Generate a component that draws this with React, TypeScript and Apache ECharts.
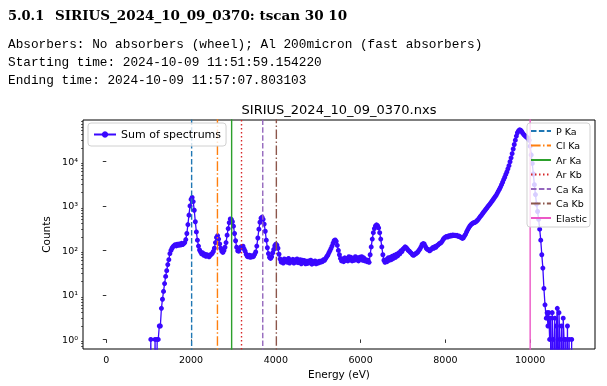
import React, { useEffect, useRef } from "react";
import * as echarts from "echarts";

// ---- Data ----
const mainStart = 1000; // eV
const mainStep = 25; // eV
const mainCounts = [
  0, 0, 1, 0, 0, 0, 1, 0, 1, 1,
  2, 2, 5, 8, 12, 18, 26, 35, 48, 62,
  85, 100, 112, 122, 128, 134, 126, 138, 130, 140,
  132, 144, 136, 142, 150, 175, 240, 380, 620, 1000,
  1400, 1550, 1250, 800, 440, 260, 170, 125, 102, 92,
  84, 88, 78, 82, 74, 80, 76, 72, 78, 82,
  86, 95, 112, 150, 195, 215, 180, 140, 112, 96,
  90, 100, 118, 150, 220, 310, 420, 510, 500, 440,
  350, 240, 165, 118, 98, 96, 110, 120, 116, 124,
  108, 96, 82, 74, 72, 78, 70, 76, 72, 74,
  82, 92, 125, 190, 300, 430, 530, 560, 500, 390,
  270, 170, 115, 85, 70, 66, 72, 88, 105, 128,
  138, 132, 112, 82, 64, 55, 60, 52, 64, 56,
  62, 54, 66, 52, 60, 56, 63, 52, 61, 55,
  64, 53, 58, 62, 50, 60, 54, 59, 50, 57,
  51, 58, 53, 60, 49, 56, 52, 58, 50, 55,
  52, 57, 54, 58, 56, 62, 60, 66, 72, 78,
  88, 98, 110, 125, 145, 165, 172, 160, 130, 100,
  80, 66, 58, 64, 56, 68, 60, 66, 58, 72,
  62, 70, 58, 66, 60, 72, 62, 68, 58, 70,
  64, 72, 60, 68, 58, 62, 56, 60, 54, 80,
  120, 180, 250, 310, 355, 375, 360, 320, 250, 180,
  120, 80, 60, 54, 62, 56, 68, 60, 70, 62,
  74, 66, 78, 70, 82, 76, 88, 84, 98, 94,
  106, 112, 120, 116, 108, 100, 96, 90, 86, 80,
  78, 82, 84, 88, 92, 100, 108, 120, 136, 142,
  140, 125, 112, 106, 104, 98, 102, 108, 116, 112,
  122, 118, 128, 132, 140, 145, 150, 162, 178, 190,
  198, 206, 200, 212, 208, 218, 212, 222, 216, 220,
  214, 218, 206, 210, 200, 196, 186, 192, 212, 230,
  260, 290, 320, 350, 375, 395, 410, 420, 430, 445,
  470, 500, 540, 580, 620, 670, 720, 770, 830, 890,
  960, 1030, 1100, 1190, 1280, 1380, 1500, 1620, 1750, 1940,
  2150, 2380, 2650, 3000, 3400, 3900, 4400, 5100, 5800, 6800,
  8000, 9800, 12000, 15000, 19000, 24000, 30000, 37000, 44000, 48500,
  51000, 50000, 47000, 43000, 40000, 38000, 36000, 34500, 33000, 30000,
  22000, 14000, 9000, 5200, 3000, 1800, 1100, 750, 500, 300,
  170, 80, 40, 14, 6,
];
const tailStart = 10380; // eV
const tailStep = 20; // eV
const tailCounts = [
  3, 4, 2, 4, 1, 3, 0, 4, 1, 0,
  3, 0, 2, 5, 0, 4, 1, 0, 2, 0,
  3, 1, 0, 1, 0, 2, 0, 1, 0, 0,
  1,
];

const lineNames = ["P Ka", "Cl Ka", "Ar Ka", "Ar Kb", "Ca Ka", "Ca Kb", "Elastic"];
const lineEnergies = [2013, 2622, 2957, 3190, 3691, 4012, 10000];

const xTicks = [0, 2000, 4000, 6000, 8000, 10000];
const yDecades = [0, 1, 2, 3, 4];

const headerTitle = "SIRIUS_2024_10_09_0370: tscan 30 10";
const headerNumber = "5.0.1";
const headerLines = [
  "Absorbers: No absorbers (wheel); Al 200micron (fast absorbers)",
  "Starting time: 2024-10-09 11:51:59.154220",
  "Ending time: 2024-10-09 11:57:07.803103",
];
const chartTitle = "SIRIUS_2024_10_09_0370.nxs";
const seriesName = "Sum of spectrums";

// ---- Styles ----
const lineColors = ["#1f77b4", "#ff7f0e", "#2ca02c", "#d62728", "#9467bd", "#8c564b", "#ec58c6"];
const lineDashes: any[] = [
  [5.5, 2.4],
  [9.6, 2.4, 1.5, 2.4],
  "solid",
  [1.5, 2.5],
  [5.5, 2.4],
  [9.6, 2.4, 1.5, 2.4],
  "solid",
];
const mainColor = "#3a08ff";

const Y_MIN = -0.215;
const Y_MAX = 4.93;
const X_MIN = -550;
const X_MAX = 11530;
const SUP = ["⁰", "¹", "²", "³", "⁴"];

const toLog = (c: number) => (c > 0 ? Math.log10(c) : -3);

export default function App() {
  const ref = useRef<HTMLDivElement>(null);
  useEffect(() => {
    if (!ref.current) return;
    const chart = echarts.init(ref.current, undefined, { renderer: "svg" });

    const mainData: number[][] = [];
    mainCounts.forEach((c, i) => mainData.push([mainStart + i * mainStep, toLog(c)]));
    tailCounts.forEach((c, i) => mainData.push([tailStart + i * tailStep, toLog(c)]));

    const minorTicks: number[] = [];
    for (let n = -1; n <= 4; n++) {
      for (let k = 2; k <= 9; k++) {
        const v = Math.log10(k * Math.pow(10, n));
        if (v > Y_MIN && v < Y_MAX) minorTicks.push(v);
      }
    }

    const font = "DejaVu Sans";
    const lineSeries = lineNames.map((name, i) => ({
      type: "line",
      name,
      data: [
        [lineEnergies[i], Y_MIN - 1],
        [lineEnergies[i], Y_MAX + 1],
      ],
      symbol: "none",
      clip: true,
      silent: true,
      z: 3,
      itemStyle: { color: lineColors[i] },
      lineStyle: { color: lineColors[i], width: 1.4, type: lineDashes[i] },
    }));

    chart.setOption({
      animation: false,
      title: {
        text: chartTitle,
        left: 339,
        top: 103,
        textAlign: "center",
        padding: 0,
        textStyle: { fontFamily: font, fontSize: 13, fontWeight: "normal", color: "#000" },
      },
      graphic: [
        {
          type: "text",
          x: 8,
          y: 15,
          style: { text: headerNumber, fontFamily: "DejaVu Serif", fontWeight: "bold", fontSize: 13, fill: "#000", verticalAlign: "middle" },
        },
        {
          type: "text",
          x: 55,
          y: 15,
          style: { text: headerTitle, fontFamily: "DejaVu Serif", fontWeight: "bold", fontSize: 13.5, fill: "#000", verticalAlign: "middle" },
        },
        ...headerLines.map((t, i) => ({
          type: "text",
          x: 8,
          y: 44 + i * 18,
          style: { text: t, fontFamily: "Liberation Mono", fontSize: 12.75, fill: "#000", verticalAlign: "middle" },
        })),
      ],
      grid: {
        left: 83,
        right: 12,
        top: 120,
        bottom: 37,
        show: true,
        borderColor: "#000",
        borderWidth: 1,
        backgroundColor: "transparent",
      },
      legend: [
        {
          data: [seriesName],
          left: 88,
          top: 123,
          orient: "vertical",
          padding: [6, 5, 6, 5],
          itemWidth: 22,
          itemHeight: 8,
          borderColor: "#d0d0d0",
          borderWidth: 1,
          borderRadius: 3,
          backgroundColor: "rgba(255,255,255,0.8)",
          textStyle: { fontFamily: font, fontSize: 11, color: "#000" },
        },
        {
          data: lineNames,
          right: 17,
          top: 123,
          orient: "vertical",
          padding: [3, 3, 4, 3],
          itemGap: 4.5,
          itemWidth: 20,
          itemHeight: 9,
          borderColor: "#d0d0d0",
          borderWidth: 1,
          borderRadius: 3,
          backgroundColor: "rgba(255,255,255,0.8)",
          itemStyle: { color: "rgba(0,0,0,0)", borderWidth: 0 },
          textStyle: { fontFamily: font, fontSize: 9.5, color: "#000" },
        },
      ],
      xAxis: {
        type: "value",
        min: X_MIN,
        max: X_MAX,
        name: "Energy (eV)",
        nameLocation: "middle",
        nameGap: 19,
        nameTextStyle: { fontFamily: font, fontSize: 10.5, color: "#000" },
        axisLine: { show: false },
        splitLine: { show: false },
        axisTick: { show: true, length: 3.5, customValues: xTicks, lineStyle: { color: "#000", width: 0.8 } },
        axisLabel: {
          customValues: xTicks,
          fontFamily: font,
          fontSize: 9.5,
          color: "#000",
          margin: 5,
          formatter: (v: number) => String(v),
        },
      },
      yAxis: [
        {
          type: "value",
          min: Y_MIN,
          max: Y_MAX,
          name: "Counts",
          nameLocation: "middle",
          nameGap: 20.5,
          nameTextStyle: { fontFamily: font, fontSize: 10.5, color: "#000" },
          axisLine: { show: false },
          splitLine: { show: false },
          axisTick: { show: true, length: 3.5, customValues: yDecades, lineStyle: { color: "#000", width: 0.8 } },
          axisLabel: {
            customValues: yDecades,
            fontFamily: font,
            fontSize: 9.5,
            color: "#000",
            margin: 5,
            formatter: (v: number) => "10" + SUP[Math.round(v)],
          },
        },
        {
          type: "value",
          min: Y_MIN,
          max: Y_MAX,
          position: "left",
          axisLine: { show: false },
          splitLine: { show: false },
          axisTick: { show: true, length: 2, customValues: minorTicks, lineStyle: { color: "#000", width: 0.6 } },
          axisLabel: { show: false, customValues: minorTicks },
        },
      ],
      series: [
        {
          type: "line",
          name: seriesName,
          data: mainData,
          clip: true,
          symbol: "circle",
          symbolSize: 5,
          showAllSymbol: true,
          z: 2,
          itemStyle: { color: mainColor },
          lineStyle: { color: mainColor, width: 1.3 },
        },
        ...lineSeries,
      ],
    });
    return () => chart.dispose();
  }, []);
  return <div ref={ref} style={{ position: "fixed", left: 0, top: 0, width: 607, height: 386 }} />;
}
